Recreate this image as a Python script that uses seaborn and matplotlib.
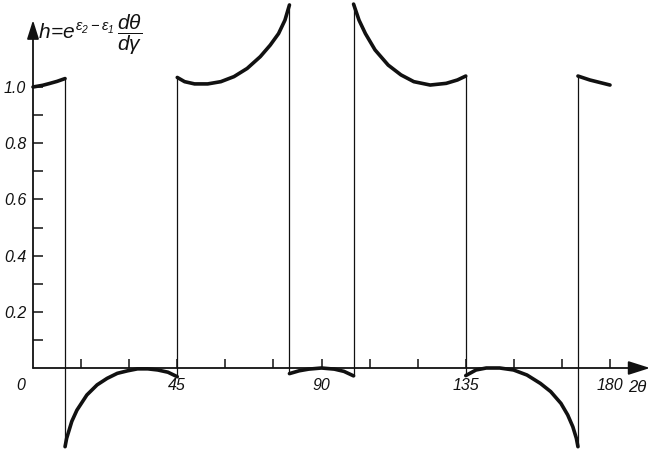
import numpy as np
import pandas as pd
import matplotlib
matplotlib.use('Agg')
import matplotlib.pyplot as plt
import seaborn as sns

# values (angle 2theta in degrees, h)
seg1_x = [0, 3, 5, 7.5, 10]
seg1_h = [1.0, 1.006, 1.012, 1.02, 1.03]

seg2_x = [10, 10.5, 12.1, 13.7, 16.8, 20.0, 23.1, 26.3, 29.5, 32.6, 35.8, 38.9, 42.1, 45]
seg2_h = [-0.28, -0.25, -0.19, -0.15, -0.096, -0.06, -0.037, -0.019, -0.01, -0.003,
          -0.003, -0.007, -0.015, -0.031]

seg3_x = [45, 47.3, 50.4, 54.5, 58.6, 62.7, 66.8, 70.9, 74.0, 76.6, 78.6, 80]
seg3_h = [1.034, 1.019, 1.011, 1.011, 1.019, 1.037, 1.066, 1.108, 1.149, 1.19, 1.238, 1.292]

seg4_x = [80, 83, 86, 90, 94, 97, 100]
seg4_h = [-0.02, -0.01, -0.004, 0.0, -0.004, -0.012, -0.028]

seg5_x = [100, 101.7, 103.7, 106.7, 110.8, 114.8, 118.8, 123.9, 128.9, 132.4, 135]
seg5_h = [1.295, 1.238, 1.19, 1.132, 1.078, 1.043, 1.019, 1.007, 1.013, 1.025, 1.039]

seg6_x = [135, 138.2, 141.4, 145.6, 149.9, 154.1, 158.3, 161.5, 164.7, 166.8, 168.4, 169.5, 170]
seg6_h = [-0.027, -0.007, 0.0, 0.0, -0.007, -0.025, -0.055, -0.084, -0.126, -0.167,
          -0.209, -0.25, -0.28]

seg7_x = [170, 173.7, 180]
seg7_h = [1.039, 1.025, 1.007]

x_major = [45, 90, 135, 180]
x_minor = [15, 30, 60, 75, 105, 120, 150, 165]
y_major = [0.2, 0.4, 0.6, 0.8, 1.0]
y_minor = [0.1, 0.3, 0.5, 0.7, 0.9]

segs_x = [seg1_x, seg2_x, seg3_x, seg4_x, seg5_x, seg6_x, seg7_x]
segs_h = [seg1_h, seg2_h, seg3_h, seg4_h, seg5_h, seg6_h, seg7_h]

rows = []
for i, (xs, hs) in enumerate(zip(segs_x, segs_h)):
    for xv, hv in zip(xs, hs):
        rows.append({'angle': xv, 'h': hv, 'segment': i})
df = pd.DataFrame(rows)

sns.set_theme(style='white')
plt.rcParams['font.family'] = ['Liberation Sans', 'DejaVu Sans']
plt.rcParams['font.style'] = 'italic'
plt.rcParams['mathtext.fontset'] = 'custom'
plt.rcParams['mathtext.it'] = 'Liberation Sans:italic'
plt.rcParams['mathtext.rm'] = 'Liberation Sans:italic'

fig = plt.figure(figsize=(6.5, 4.51), dpi=100)
ax = fig.add_axes([0, 0, 1, 1])

# curves
sns.lineplot(data=df, x='angle', y='h', units='segment', estimator=None, sort=False,
             color='#111111', lw=2.6, ax=ax, legend=False)

# jumps between segments
for i in range(len(segs_x) - 1):
    xj = segs_x[i][-1]
    ax.vlines(xj, min(segs_h[i][-1], segs_h[i + 1][0]), max(segs_h[i][-1], segs_h[i + 1][0]),
              color='#111111', lw=0.9)

xscale = 3.2056
ax.set_xlim(-33 / xscale, 617 / xscale)
ax.set_ylim(-83 / 281, 368 / 281)
ax.set_xlabel('')
ax.set_ylabel('')

for s in ['top', 'right']:
    ax.spines[s].set_visible(False)
for s in ['left', 'bottom']:
    ax.spines[s].set_position(('data', 0))
    ax.spines[s].set_visible(False)

# axis lines with arrow heads
ax.annotate('', xy=(0, 1.238), xytext=(0, 0),
            arrowprops=dict(arrowstyle='-|>,head_length=0.95,head_width=0.3',
                            lw=1.3, color='#111111', shrinkA=0, shrinkB=0))
ax.annotate('', xy=(617 / xscale, 0), xytext=(0, 0),
            arrowprops=dict(arrowstyle='-|>,head_length=1.1,head_width=0.35',
                            lw=1.3, color='#111111', shrinkA=0, shrinkB=0))

ax.set_xticks(x_major)
ax.set_xticks(x_minor, minor=True)
ax.set_xticklabels([str(v) for v in x_major])
ax.set_yticks(y_major)
ax.set_yticks(y_minor, minor=True)
ax.set_yticklabels([f'{v:.1f}' for v in y_major])
ax.tick_params(axis='x', which='both', direction='in', length=6.5, width=1.1,
               colors='#111111', labelsize=11.5, pad=7, bottom=True)
ax.tick_params(axis='y', which='both', direction='in', length=7, width=1.1,
               colors='#111111', labelsize=11.5, pad=5, left=True)
for lab in ax.get_xticklabels() + ax.get_yticklabels():
    lab.set_fontstyle('italic')

ax.text(-12 / xscale, -18 / 281, '0', ha='center', va='center', fontsize=11.5,
        style='italic', color='#111111')
ax.text(595 / xscale, -19 / 281, '2θ', ha='left', va='center', fontsize=12,
        style='italic', color='#111111')

fig.text(38 / 650, 1 - 35 / 451,
         r'$h\!=\!e^{\varepsilon_2-\varepsilon_1}\,\dfrac{d\theta}{d\gamma}$',
         ha='left', va='center', fontsize=15, color='#111111')

fig.savefig('out.png', dpi=100, facecolor='white')
